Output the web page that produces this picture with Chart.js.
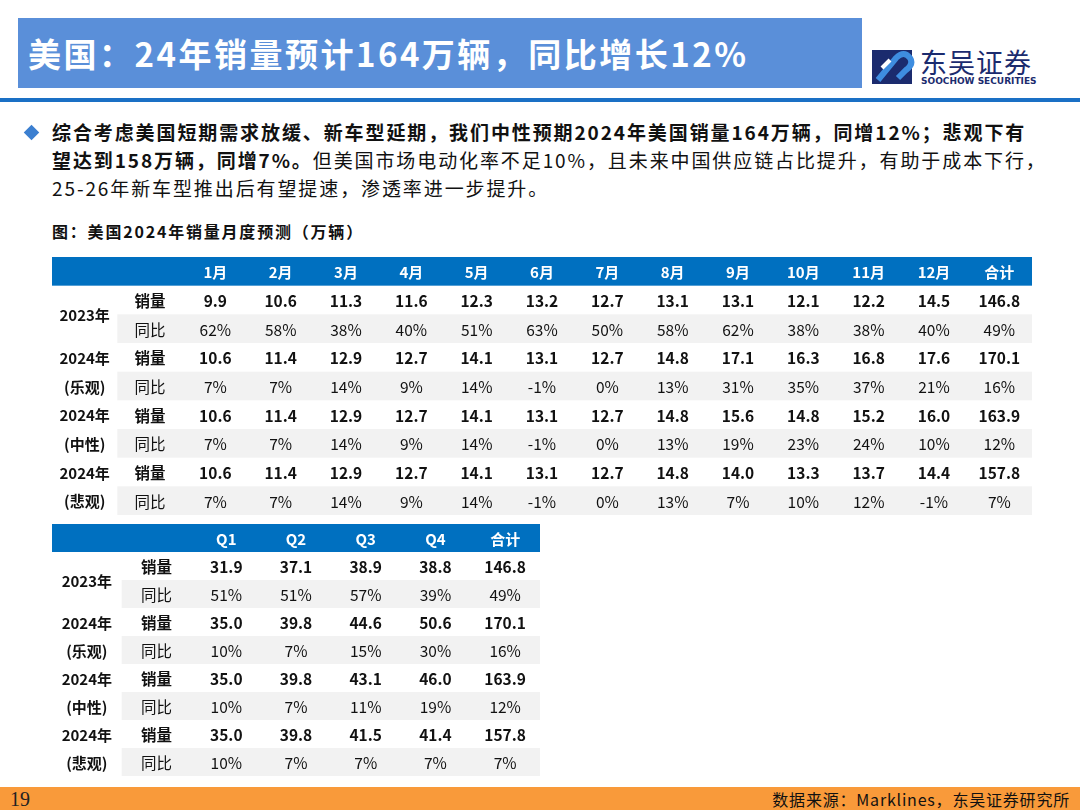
<!DOCTYPE html>
<html><head><meta charset="utf-8">
<script src="https://cdn.jsdelivr.net/npm/chart.js@4"></script>
<style>
body{margin:0;width:1080px;height:810px;position:relative;background:#fff;font-family:"Noto Sans CJK SC","Noto Sans",sans-serif;overflow:hidden}
.abs{position:absolute}
#title{left:18px;top:18px;width:844px;height:70px;background:#5a8fd9;color:#fff;font-weight:bold;font-size:33px;letter-spacing:2.5px;line-height:70px;padding-left:10px;box-sizing:border-box}
#rule{left:0;top:98px;width:1080px;height:4px;background:#1a70c5}
#para{left:52px;top:118px;width:1030px;font-size:19px;letter-spacing:1.9px;line-height:28px;color:#111;white-space:nowrap}
#cap{left:52px;top:219px;font-size:16px;letter-spacing:1.8px;font-weight:bold;color:#111}
#foot{left:0;top:787px;width:1080px;height:23px;background:#f99a3a}
</style></head><body>
<div id="title" class="abs">美国：24年销量预计164万辆，同比增长12%</div>
<div class="abs" style="left:872px;top:50px;width:44px;height:34px;">
<svg width="44" height="34" viewBox="0 0 44 34"><rect x="0" y="0" width="40" height="34" fill="#1b2b6e"/><path d="M6 30 L24 8 Q32 0 38 8 Q42 14 34 20 L26 28" stroke="#3e8de0" stroke-width="6" fill="none"/><path d="M10 18 L18 10" stroke="#fff" stroke-width="4"/></svg></div>
<div class="abs" style="left:920px;top:42px;font-size:27px;color:#1b2b6e;letter-spacing:1px">东吴证券</div>
<div class="abs" style="left:921px;top:76px;font-size:9px;font-weight:bold;color:#1b2b6e;font-family:'DejaVu Sans'">SOOCHOW SECURITIES</div>
<div id="rule" class="abs"></div>
<div class="abs" style="left:26px;top:127px;width:11px;height:11px;background:#3b7fd0;transform:rotate(45deg)"></div>
<div id="para" class="abs"><b>综合考虑美国短期需求放缓、新车型延期，我们中性预期2024年美国销量164万辆，同增12%；悲观下有</b><br><b>望达到158万辆，同增7%。</b>但美国市场电动化率不足10%，且未来中国供应链占比提升，有助于成本下行，<br>25-26年新车型推出后有望提速，渗透率进一步提升。</div>
<div id="cap" class="abs">图：美国2024年销量月度预测（万辆）</div>
<div class="abs" style="left:52px;top:257px;width:980px;height:258px"><canvas id="t1" width="980" height="258"></canvas></div>
<div class="abs" style="left:52px;top:524px;width:488px;height:252px"><canvas id="t2" width="488" height="252"></canvas></div>
<div id="foot" class="abs"></div>
<div class="abs" style="left:10px;top:787px;font-family:'Liberation Serif';font-size:20px;line-height:24px;color:#222">19</div>
<div class="abs" style="right:10px;top:787px;font-size:16px;letter-spacing:0.8px;line-height:24px;color:#111">数据来源：Marklines，东吴证券研究所</div>
<script>
const monthCols=['1月','2月','3月','4月','5月','6月','7月','8月','9月','10月','11月','12月','合计'];
const quarterCols=['Q1','Q2','Q3','Q4','合计'];
const groupYears=['2023年','2024年','2024年','2024年'];
const groupSub=['','(乐观)','(中性)','(悲观)'];
const rowItems=['销量','同比'];
const m2023Vol=['9.9','10.6','11.3','11.6','12.3','13.2','12.7','13.1','13.1','12.1','12.2','14.5','146.8'];
const m2023Yoy=['62%','58%','38%','40%','51%','63%','50%','58%','62%','38%','38%','40%','49%'];
const mOptVol=['10.6','11.4','12.9','12.7','14.1','13.1','12.7','14.8','17.1','16.3','16.8','17.6','170.1'];
const mOptYoy=['7%','7%','14%','9%','14%','-1%','0%','13%','31%','35%','37%','21%','16%'];
const mNeuVol=['10.6','11.4','12.9','12.7','14.1','13.1','12.7','14.8','15.6','14.8','15.2','16.0','163.9'];
const mNeuYoy=['7%','7%','14%','9%','14%','-1%','0%','13%','19%','23%','24%','10%','12%'];
const mPesVol=['10.6','11.4','12.9','12.7','14.1','13.1','12.7','14.8','14.0','13.3','13.7','14.4','157.8'];
const mPesYoy=['7%','7%','14%','9%','14%','-1%','0%','13%','7%','10%','12%','-1%','7%'];
const q2023Vol=['31.9','37.1','38.9','38.8','146.8'];
const q2023Yoy=['51%','51%','57%','39%','49%'];
const qOptVol=['35.0','39.8','44.6','50.6','170.1'];
const qOptYoy=['10%','7%','15%','30%','16%'];
const qNeuVol=['35.0','39.8','43.1','46.0','163.9'];
const qNeuYoy=['10%','7%','11%','19%','12%'];
const qPesVol=['35.0','39.8','41.5','41.4','157.8'];
const qPesYoy=['10%','7%','7%','7%','7%'];

function makeTable(id,cols,rows){
  const xl=['y','i',...cols];
  const yl=['h',...rows.map((r,k)=>'r'+k)];
  const FONT='"Noto Sans CJK SC","Noto Sans",sans-serif';
  const plugin={id:'tbl',afterDraw(ch){
    const c=ch.ctx,xs=ch.scales.x,ys=ch.scales.y;
    const cw=xs.width/xl.length,rh=ys.height/yl.length;
    const cx=i=>xs.getPixelForValue(i),cy=j=>ys.getPixelForValue(j);
    c.save();
    c.fillStyle='#0070c0';c.fillRect(xs.left,cy(0)-rh/2,xs.width,rh);
    rows.forEach((r,k)=>{if(k%2===1){c.fillStyle='#f2f2f2';c.fillRect(cx(1)-cw/2,cy(k+1)-rh/2,xs.right-(cx(1)-cw/2),rh);}});
    c.textAlign='center';c.textBaseline='middle';
    c.fillStyle='#fff';c.font='bold 15px '+FONT;
    cols.forEach((t,i)=>c.fillText(t,cx(i+2),cy(0)+1));
    rows.forEach((r,k)=>{
      const y=cy(k+1)+1,bold=k%2===0;
      c.fillStyle='#111';
      c.font=(bold?'bold ':'')+'15.5px '+FONT;
      c.fillText(rowItems[k%2],cx(1),y);
      r.forEach((t,i)=>c.fillText(t,cx(i+2),y));
      c.font='bold 15px '+FONT;
      const g=Math.floor(k/2);
      if(g===0){ if(k===0) c.fillText(groupYears[0],cx(0),y+rh/2); }
      else c.fillText(k%2===0?groupYears[g]:groupSub[g],cx(0),y);
    });
    c.restore();
  }};
  new Chart(document.getElementById(id),{type:'bar',
    data:{labels:xl,datasets:[{data:[]}]},
    options:{responsive:false,animation:false,events:[],layout:{padding:0},
      plugins:{legend:{display:false},tooltip:{enabled:false}},
      scales:{x:{type:'category',labels:xl,display:false,offset:true},
              y:{type:'category',labels:yl,display:false,offset:true}}},
    plugins:[plugin]});
}
makeTable('t1',monthCols,[m2023Vol,m2023Yoy,mOptVol,mOptYoy,mNeuVol,mNeuYoy,mPesVol,mPesYoy]);
makeTable('t2',quarterCols,[q2023Vol,q2023Yoy,qOptVol,qOptYoy,qNeuVol,qNeuYoy,qPesVol,qPesYoy]);
</script>
</body></html>
